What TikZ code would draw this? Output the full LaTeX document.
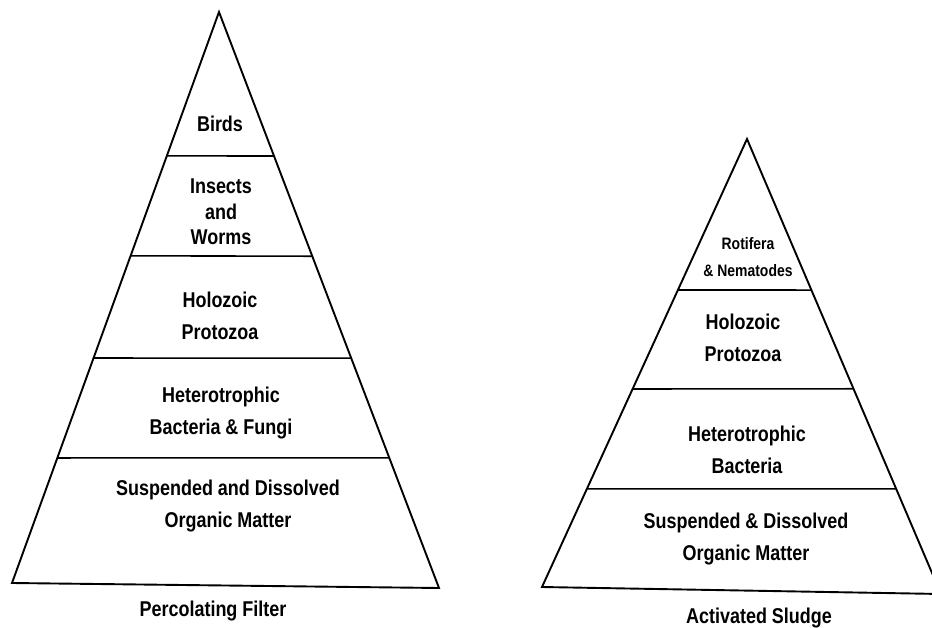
\documentclass[tikz,border=0pt]{standalone}
\usepackage{fontspec}
\setmainfont[FakeStretch=0.84]{Liberation Sans}
\usetikzlibrary{calc}
\tikzset{
  edge/.style={line width=1.9pt, line join=miter},
  tier/.style={line width=1.6pt},
  lbl/.style={font=\bfseries\fontsize{21.4}{32}\selectfont, align=center, inner sep=0pt},
  stack/.style={font=\bfseries\fontsize{21.4}{25.5}\selectfont, align=center, inner sep=0pt},
  small/.style={font=\bfseries\fontsize{16.6}{27}\selectfont, align=center, inner sep=0pt},
  caption/.style={font=\bfseries\fontsize{21.4}{24}\selectfont, inner sep=0pt}
}
\begin{document}
\begin{tikzpicture}[x=1pt,y=-1pt]
\useasboundingbox (0,0) rectangle (932,628);
\clip (0,0) rectangle (932,628);
% ---------- Percolating filter ----------
\coordinate (A1) at (219,12);
\coordinate (BL1) at (12,583);
\coordinate (BR1) at (439,588);
\draw[edge] (A1) -- (BL1) -- (BR1) -- cycle;
\coordinate (a1l) at ($(A1)!.252!(BL1)$);  \coordinate (a1r) at ($(A1)!.250!(BR1)$);
\coordinate (b1l) at ($(A1)!.427!(BL1)$);  \coordinate (b1r) at ($(A1)!.424!(BR1)$);
\coordinate (c1l) at ($(A1)!.606!(BL1)$);  \coordinate (c1r) at ($(A1)!.601!(BR1)$);
\coordinate (d1l) at ($(A1)!.781!(BL1)$);  \coordinate (d1r) at ($(A1)!.774!(BR1)$);
\draw[tier] (a1l) -- (a1r);
\draw[tier] (b1l) -- (b1r);
\draw[tier] (c1l) -- (c1r);
\draw[tier] (d1l) -- (d1r);
\node[caption] (birds) at (220,124) {Birds};
\node[stack] (insects) at (221,212) {Insects\\and\\Worms};
\node[lbl]   (holo1) at (220,316) {Holozoic\\Protozoa};
\node[lbl]   (hetero1) at (221,413) {Heterotrophic\\Bacteria \& Fungi};
\node[lbl]   (susp1) at (228,506) {Suspended and Dissolved\\Organic Matter};
\node[caption] (title1) at (213,611) {Percolating Filter};
% ---------- Activated sludge ----------
\coordinate (A2) at (747,139);
\coordinate (BL2) at (542,587);
\coordinate (BR2) at (941,594);
\draw[edge] (A2) -- (BL2) -- (BR2) -- cycle;
\coordinate (a2l) at ($(A2)!.337!(BL2)$);  \coordinate (a2r) at ($(A2)!.332!(BR2)$);
\coordinate (b2l) at ($(A2)!.558!(BL2)$);  \coordinate (b2r) at ($(A2)!.549!(BR2)$);
\coordinate (c2l) at ($(A2)!.781!(BL2)$);  \coordinate (c2r) at ($(A2)!.769!(BR2)$);
\draw[tier] (a2l) -- (a2r);
\draw[tier] (b2l) -- (b2r);
\draw[tier] (c2l) -- (c2r);
\node[small] (rot) at (748,257) {Rotifera\\\& Nematodes};
\node[lbl]   (holo2) at (743,338) {Holozoic\\Protozoa};
\node[lbl]   (hetero2) at (747,450) {Heterotrophic\\Bacteria};
\node[lbl]   (susp2) at (746,539) {Suspended \& Dissolved\\Organic Matter};
\node[caption] (title2) at (759,618) {Activated Sludge};
\end{tikzpicture}
\end{document}
